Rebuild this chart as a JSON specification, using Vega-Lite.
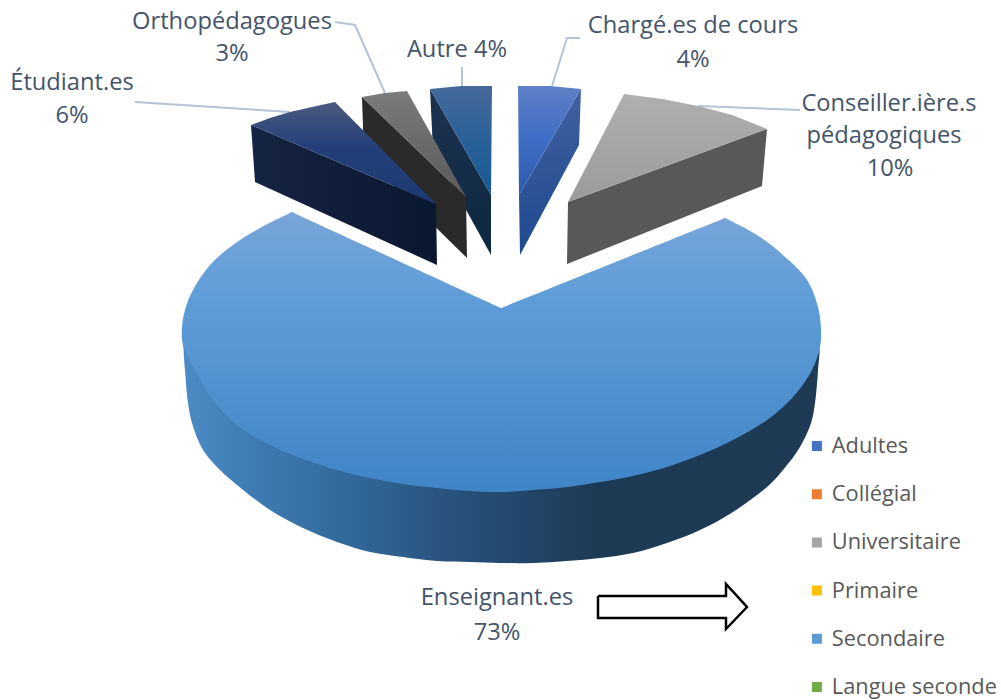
{"$schema":"https://vega.github.io/schema/vega-lite/v6.json","width":1001,"height":700,"padding":0,"autosize":{"type":"fit","contains":"padding"},"background":"white","view":{"stroke":null},
"datasets":{
"shapes":[
{"p":"wall","i":0,"x":183,"y":340},{"p":"wall","i":1,"x":185,"y":370},{"p":"wall","i":2,"x":188,"y":403},{"p":"wall","i":3,"x":192,"y":423},{"p":"wall","i":4,"x":203,"y":450},{"p":"wall","i":5,"x":220,"y":470},{"p":"wall","i":6,"x":237,"y":485},{"p":"wall","i":7,"x":270,"y":510},{"p":"wall","i":8,"x":303,"y":528},{"p":"wall","i":9,"x":337,"y":542},{"p":"wall","i":10,"x":370,"y":552},{"p":"wall","i":11,"x":403,"y":557},{"p":"wall","i":12,"x":437,"y":561},{"p":"wall","i":13,"x":470,"y":562},{"p":"wall","i":14,"x":500,"y":563},{"p":"wall","i":15,"x":533,"y":563},{"p":"wall","i":16,"x":567,"y":561},{"p":"wall","i":17,"x":600,"y":558},{"p":"wall","i":18,"x":633,"y":553},{"p":"wall","i":19,"x":667,"y":543},{"p":"wall","i":20,"x":700,"y":530},{"p":"wall","i":21,"x":733,"y":512},{"p":"wall","i":22,"x":767,"y":487},{"p":"wall","i":23,"x":783,"y":470},{"p":"wall","i":24,"x":800,"y":447},{"p":"wall","i":25,"x":811,"y":423},{"p":"wall","i":26,"x":815,"y":403},{"p":"wall","i":27,"x":818,"y":370},{"p":"wall","i":28,"x":819,"y":345},{"p":"wall","i":29,"x":812,"y":330},{"p":"wall","i":30,"x":500,"y":325},{"p":"wall","i":31,"x":190,"y":330},{"p":"wall","i":32,"x":183,"y":340},
{"p":"top","i":0,"x":501,"y":308},{"p":"top","i":0.5,"x":505,"y":306.4},{"p":"top","i":0.7,"x":722,"y":219.2},{"p":"top","i":0.9,"x":725,"y":218},{"p":"top","i":1,"x":727,"y":219},{"p":"top","i":2,"x":757,"y":235},{"p":"top","i":3,"x":783,"y":255},{"p":"top","i":4,"x":807,"y":280},{"p":"top","i":5,"x":818,"y":307},{"p":"top","i":6,"x":821,"y":330},{"p":"top","i":7,"x":820,"y":347},{"p":"top","i":8,"x":812,"y":370},{"p":"top","i":9,"x":793,"y":397},{"p":"top","i":10,"x":767,"y":420},{"p":"top","i":11,"x":733,"y":440},{"p":"top","i":12,"x":700,"y":455},{"p":"top","i":13,"x":667,"y":467},{"p":"top","i":14,"x":633,"y":476},{"p":"top","i":15,"x":600,"y":482},{"p":"top","i":16,"x":567,"y":487},{"p":"top","i":17,"x":533,"y":490},{"p":"top","i":18,"x":500,"y":492},{"p":"top","i":19,"x":470,"y":491},{"p":"top","i":20,"x":437,"y":488},{"p":"top","i":21,"x":403,"y":484},{"p":"top","i":22,"x":370,"y":478},{"p":"top","i":23,"x":337,"y":470},{"p":"top","i":24,"x":303,"y":459},{"p":"top","i":25,"x":270,"y":445},{"p":"top","i":26,"x":237,"y":425},{"p":"top","i":27,"x":213,"y":400},{"p":"top","i":28,"x":195,"y":370},{"p":"top","i":29,"x":183,"y":345},{"p":"top","i":30,"x":182,"y":328},{"p":"top","i":31,"x":185,"y":310},{"p":"top","i":32,"x":193,"y":290},{"p":"top","i":33,"x":210,"y":265},{"p":"top","i":34,"x":233,"y":245},{"p":"top","i":35,"x":260,"y":228},{"p":"top","i":35.8,"x":290,"y":213},{"p":"top","i":36,"x":292,"y":212},{"p":"top","i":36.3,"x":295,"y":213.4},{"p":"top","i":36.7,"x":497,"y":306.2},{"p":"top","i":37,"x":501,"y":308},
{"p":"autreW","i":0,"x":430,"y":89},{"p":"autreW","i":1,"x":491,"y":195},{"p":"autreW","i":2,"x":491,"y":255},{"p":"autreW","i":3,"x":433,"y":150},{"p":"autreW","i":4,"x":430,"y":89},
{"p":"autreT","i":0,"x":430,"y":89},{"p":"autreT","i":1,"x":461,"y":86},{"p":"autreT","i":2,"x":492,"y":86},{"p":"autreT","i":3,"x":491,"y":195},{"p":"autreT","i":4,"x":430,"y":89},
{"p":"orthoW","i":0,"x":362,"y":97},{"p":"orthoW","i":1,"x":466,"y":197},{"p":"orthoW","i":2,"x":467,"y":258},{"p":"orthoW","i":3,"x":364,"y":157},{"p":"orthoW","i":4,"x":362,"y":97},
{"p":"orthoT","i":0,"x":362,"y":97},{"p":"orthoT","i":1,"x":385,"y":93},{"p":"orthoT","i":2,"x":407,"y":91},{"p":"orthoT","i":3,"x":466,"y":197},{"p":"orthoT","i":4,"x":362,"y":97},
{"p":"etuW","i":0,"x":251,"y":125},{"p":"etuW","i":1,"x":436,"y":204},{"p":"etuW","i":2,"x":437,"y":265},{"p":"etuW","i":3,"x":255,"y":182},{"p":"etuW","i":4,"x":251,"y":125},
{"p":"etuT","i":0,"x":251,"y":125},{"p":"etuT","i":1,"x":270,"y":118},{"p":"etuT","i":2,"x":290,"y":112},{"p":"etuT","i":3,"x":312,"y":107},{"p":"etuT","i":4,"x":335,"y":102},{"p":"etuT","i":5,"x":436,"y":204},{"p":"etuT","i":6,"x":251,"y":125},
{"p":"chargeW","i":0,"x":581,"y":89},{"p":"chargeW","i":1,"x":519,"y":195},{"p":"chargeW","i":2,"x":520,"y":255},{"p":"chargeW","i":3,"x":579,"y":145},{"p":"chargeW","i":4,"x":581,"y":89},
{"p":"chargeT","i":0,"x":518,"y":86},{"p":"chargeT","i":1,"x":550,"y":86},{"p":"chargeT","i":2,"x":581,"y":89},{"p":"chargeT","i":3,"x":519,"y":195},{"p":"chargeT","i":4,"x":518,"y":86},
{"p":"consW","i":0,"x":767,"y":129},{"p":"consW","i":1,"x":568,"y":202},{"p":"consW","i":2,"x":567,"y":264},{"p":"consW","i":3,"x":762,"y":186},{"p":"consW","i":4,"x":767,"y":129},
{"p":"consT","i":0,"x":624,"y":94},{"p":"consT","i":1,"x":662,"y":99},{"p":"consT","i":2,"x":698,"y":106},{"p":"consT","i":3,"x":732,"y":115},{"p":"consT","i":4,"x":767,"y":129},{"p":"consT","i":5,"x":568,"y":202},{"p":"consT","i":6,"x":624,"y":94},
{"p":"arrow","i":0,"x":598,"y":596},{"p":"arrow","i":1,"x":726,"y":596},{"p":"arrow","i":2,"x":726,"y":584},{"p":"arrow","i":3,"x":747,"y":607},{"p":"arrow","i":4,"x":726,"y":629},{"p":"arrow","i":5,"x":726,"y":618},{"p":"arrow","i":6,"x":598,"y":618},{"p":"arrow","i":7,"x":598,"y":596}
],
"leaders":[
{"p":"l1","i":0,"x":135,"y":102},{"p":"l1","i":1,"x":290,"y":112},
{"p":"l2","i":0,"x":335,"y":22},{"p":"l2","i":1,"x":355,"y":25},{"p":"l2","i":2,"x":385,"y":93},
{"p":"l3","i":0,"x":462,"y":67},{"p":"l3","i":1,"x":462,"y":86},
{"p":"l4","i":0,"x":580,"y":38},{"p":"l4","i":1,"x":567,"y":38},{"p":"l4","i":2,"x":552,"y":86},
{"p":"l5","i":0,"x":698,"y":106},{"p":"l5","i":1,"x":800,"y":110}
],
"labels":[
{"t":"Orthopédagogues","x":232,"y":22},{"t":"3%","x":232,"y":54},
{"t":"Étudiant.es","x":72,"y":83},{"t":"6%","x":72,"y":116},
{"t":"Autre 4%","x":457,"y":50},
{"t":"Chargé.es de cours","x":693,"y":26},{"t":"4%","x":693,"y":60},
{"t":"Conseiller.ière.s","x":889,"y":104},{"t":"pédagogiques","x":884,"y":136},{"t":"10%","x":890,"y":169},
{"t":"Enseignant.es","x":497,"y":598},{"t":"73%","x":497,"y":633}
],
"levels":[{"c":"Adultes"},{"c":"Collégial"},{"c":"Universitaire"},{"c":"Primaire"},{"c":"Secondaire"},{"c":"Langue seconde"}]
},
"encoding":{
"x":{"field":"x","type":"quantitative","axis":null,"scale":{"domain":[0,1001],"nice":false,"zero":false}},
"y":{"field":"y","type":"quantitative","axis":null,"scale":{"domain":[700,0],"nice":false,"zero":false}},
"order":{"field":"i"}
},
"layer":[
{"data":{"name":"leaders"},"mark":{"type":"line","stroke":"#b4c3d6","strokeWidth":2},"encoding":{"detail":{"field":"p"}}},
{"data":{"name":"shapes"},"transform":[{"filter":"datum.p=='wall'"}],"mark":{"type":"line","interpolate":"catmull-rom","strokeWidth":0,"fill":{"gradient":"linear","x1":0,"y1":0,"x2":1,"y2":0,"stops":[{"offset":0,"color":"#4c8bc6"},{"offset":0.1,"color":"#3f7db5"},{"offset":0.25,"color":"#336a9c"},{"offset":0.4,"color":"#2a5580"},{"offset":0.5,"color":"#244a70"},{"offset":0.65,"color":"#1d3a55"},{"offset":1,"color":"#1e3a54"}]}}},
{"data":{"name":"shapes"},"transform":[{"filter":"datum.p=='top'"}],"mark":{"type":"line","interpolate":"catmull-rom","strokeWidth":0,"fill":{"gradient":"linear","x1":0,"y1":0,"x2":0,"y2":1,"stops":[{"offset":0,"color":"#79a5d9"},{"offset":0.3,"color":"#5f9dd8"},{"offset":1,"color":"#3f85c6"}]}}},
{"data":{"name":"shapes"},"transform":[{"filter":"datum.p=='autreW'"}],"mark":{"type":"line","strokeWidth":0,"fill":{"gradient":"linear","x1":0,"y1":0,"x2":0,"y2":1,"stops":[{"offset":0,"color":"#1e3350"},{"offset":1,"color":"#0c2740"}]}}},
{"data":{"name":"shapes"},"transform":[{"filter":"datum.p=='autreT'"}],"mark":{"type":"line","strokeWidth":0,"fill":{"gradient":"linear","x1":0,"y1":0,"x2":0,"y2":1,"stops":[{"offset":0,"color":"#46699a"},{"offset":0.5,"color":"#2a6199"},{"offset":1,"color":"#185a94"}]}}},
{"data":{"name":"shapes"},"transform":[{"filter":"datum.p=='orthoW'"}],"mark":{"type":"line","strokeWidth":0,"fill":"#2a2a2a"}},
{"data":{"name":"shapes"},"transform":[{"filter":"datum.p=='orthoT'"}],"mark":{"type":"line","strokeWidth":0,"fill":{"gradient":"linear","x1":0,"y1":0,"x2":0,"y2":1,"stops":[{"offset":0,"color":"#7b7b7b"},{"offset":1,"color":"#595959"}]}}},
{"data":{"name":"shapes"},"transform":[{"filter":"datum.p=='etuW'"}],"mark":{"type":"line","strokeWidth":0,"fill":{"gradient":"linear","x1":0,"y1":0,"x2":1,"y2":0,"stops":[{"offset":0,"color":"#162443"},{"offset":1,"color":"#0a1730"}]}}},
{"data":{"name":"shapes"},"transform":[{"filter":"datum.p=='etuT'"}],"mark":{"type":"line","strokeWidth":0,"fill":{"gradient":"linear","x1":0,"y1":0,"x2":0,"y2":1,"stops":[{"offset":0,"color":"#4c5a80"},{"offset":0.45,"color":"#233f79"},{"offset":1,"color":"#1c3a72"}]}}},
{"data":{"name":"shapes"},"transform":[{"filter":"datum.p=='chargeW'"}],"mark":{"type":"line","strokeWidth":0,"fill":{"gradient":"linear","x1":0,"y1":0,"x2":0,"y2":1,"stops":[{"offset":0,"color":"#40609f"},{"offset":1,"color":"#1f4a90"}]}}},
{"data":{"name":"shapes"},"transform":[{"filter":"datum.p=='chargeT'"}],"mark":{"type":"line","strokeWidth":0,"fill":{"gradient":"linear","x1":0,"y1":0,"x2":0,"y2":1,"stops":[{"offset":0,"color":"#5f80c6"},{"offset":0.5,"color":"#3f6dc5"},{"offset":1,"color":"#2c5bab"}]}}},
{"data":{"name":"shapes"},"transform":[{"filter":"datum.p=='consW'"}],"mark":{"type":"line","strokeWidth":0,"fill":"#585858"}},
{"data":{"name":"shapes"},"transform":[{"filter":"datum.p=='consT'"}],"mark":{"type":"line","strokeWidth":0,"fill":{"gradient":"linear","x1":0,"y1":0,"x2":0,"y2":1,"stops":[{"offset":0,"color":"#afafaf"},{"offset":0.5,"color":"#a5a5a5"},{"offset":1,"color":"#9b9b9b"}]}}},
{"data":{"name":"shapes"},"transform":[{"filter":"datum.p=='arrow'"}],"mark":{"type":"line","stroke":"#000000","strokeWidth":2.5,"fill":"#ffffff","strokeJoin":"miter"}},
{"data":{"name":"labels"},"mark":{"type":"text","font":"Open Sans","fontSize":23.7,"fill":"#44546a","align":"center","baseline":"middle"},"encoding":{"text":{"field":"t"},"order":null}},
{"data":{"name":"levels"},"mark":{"type":"point","filled":true,"size":0,"opacity":0},"encoding":{"x":null,"y":null,"order":null,"color":{"field":"c","type":"nominal","sort":null,"scale":{"domain":["Adultes","Collégial","Universitaire","Primaire","Secondaire","Langue seconde"],"range":["#4472c4","#ed7d31","#a5a5a5","#ffc000","#5b9bd5","#70ad47"]},"legend":{"title":null,"orient":"none","legendX":806,"legendY":434,"symbolType":"square","symbolSize":100,"symbolOpacity":1,"symbolStrokeWidth":0,"labelFont":"Open Sans","labelFontSize":21.8,"labelColor":"#595959","labelOffset":4,"rowPadding":24.2,"labelLimit":300,"clipHeight":24}}}}
]}
